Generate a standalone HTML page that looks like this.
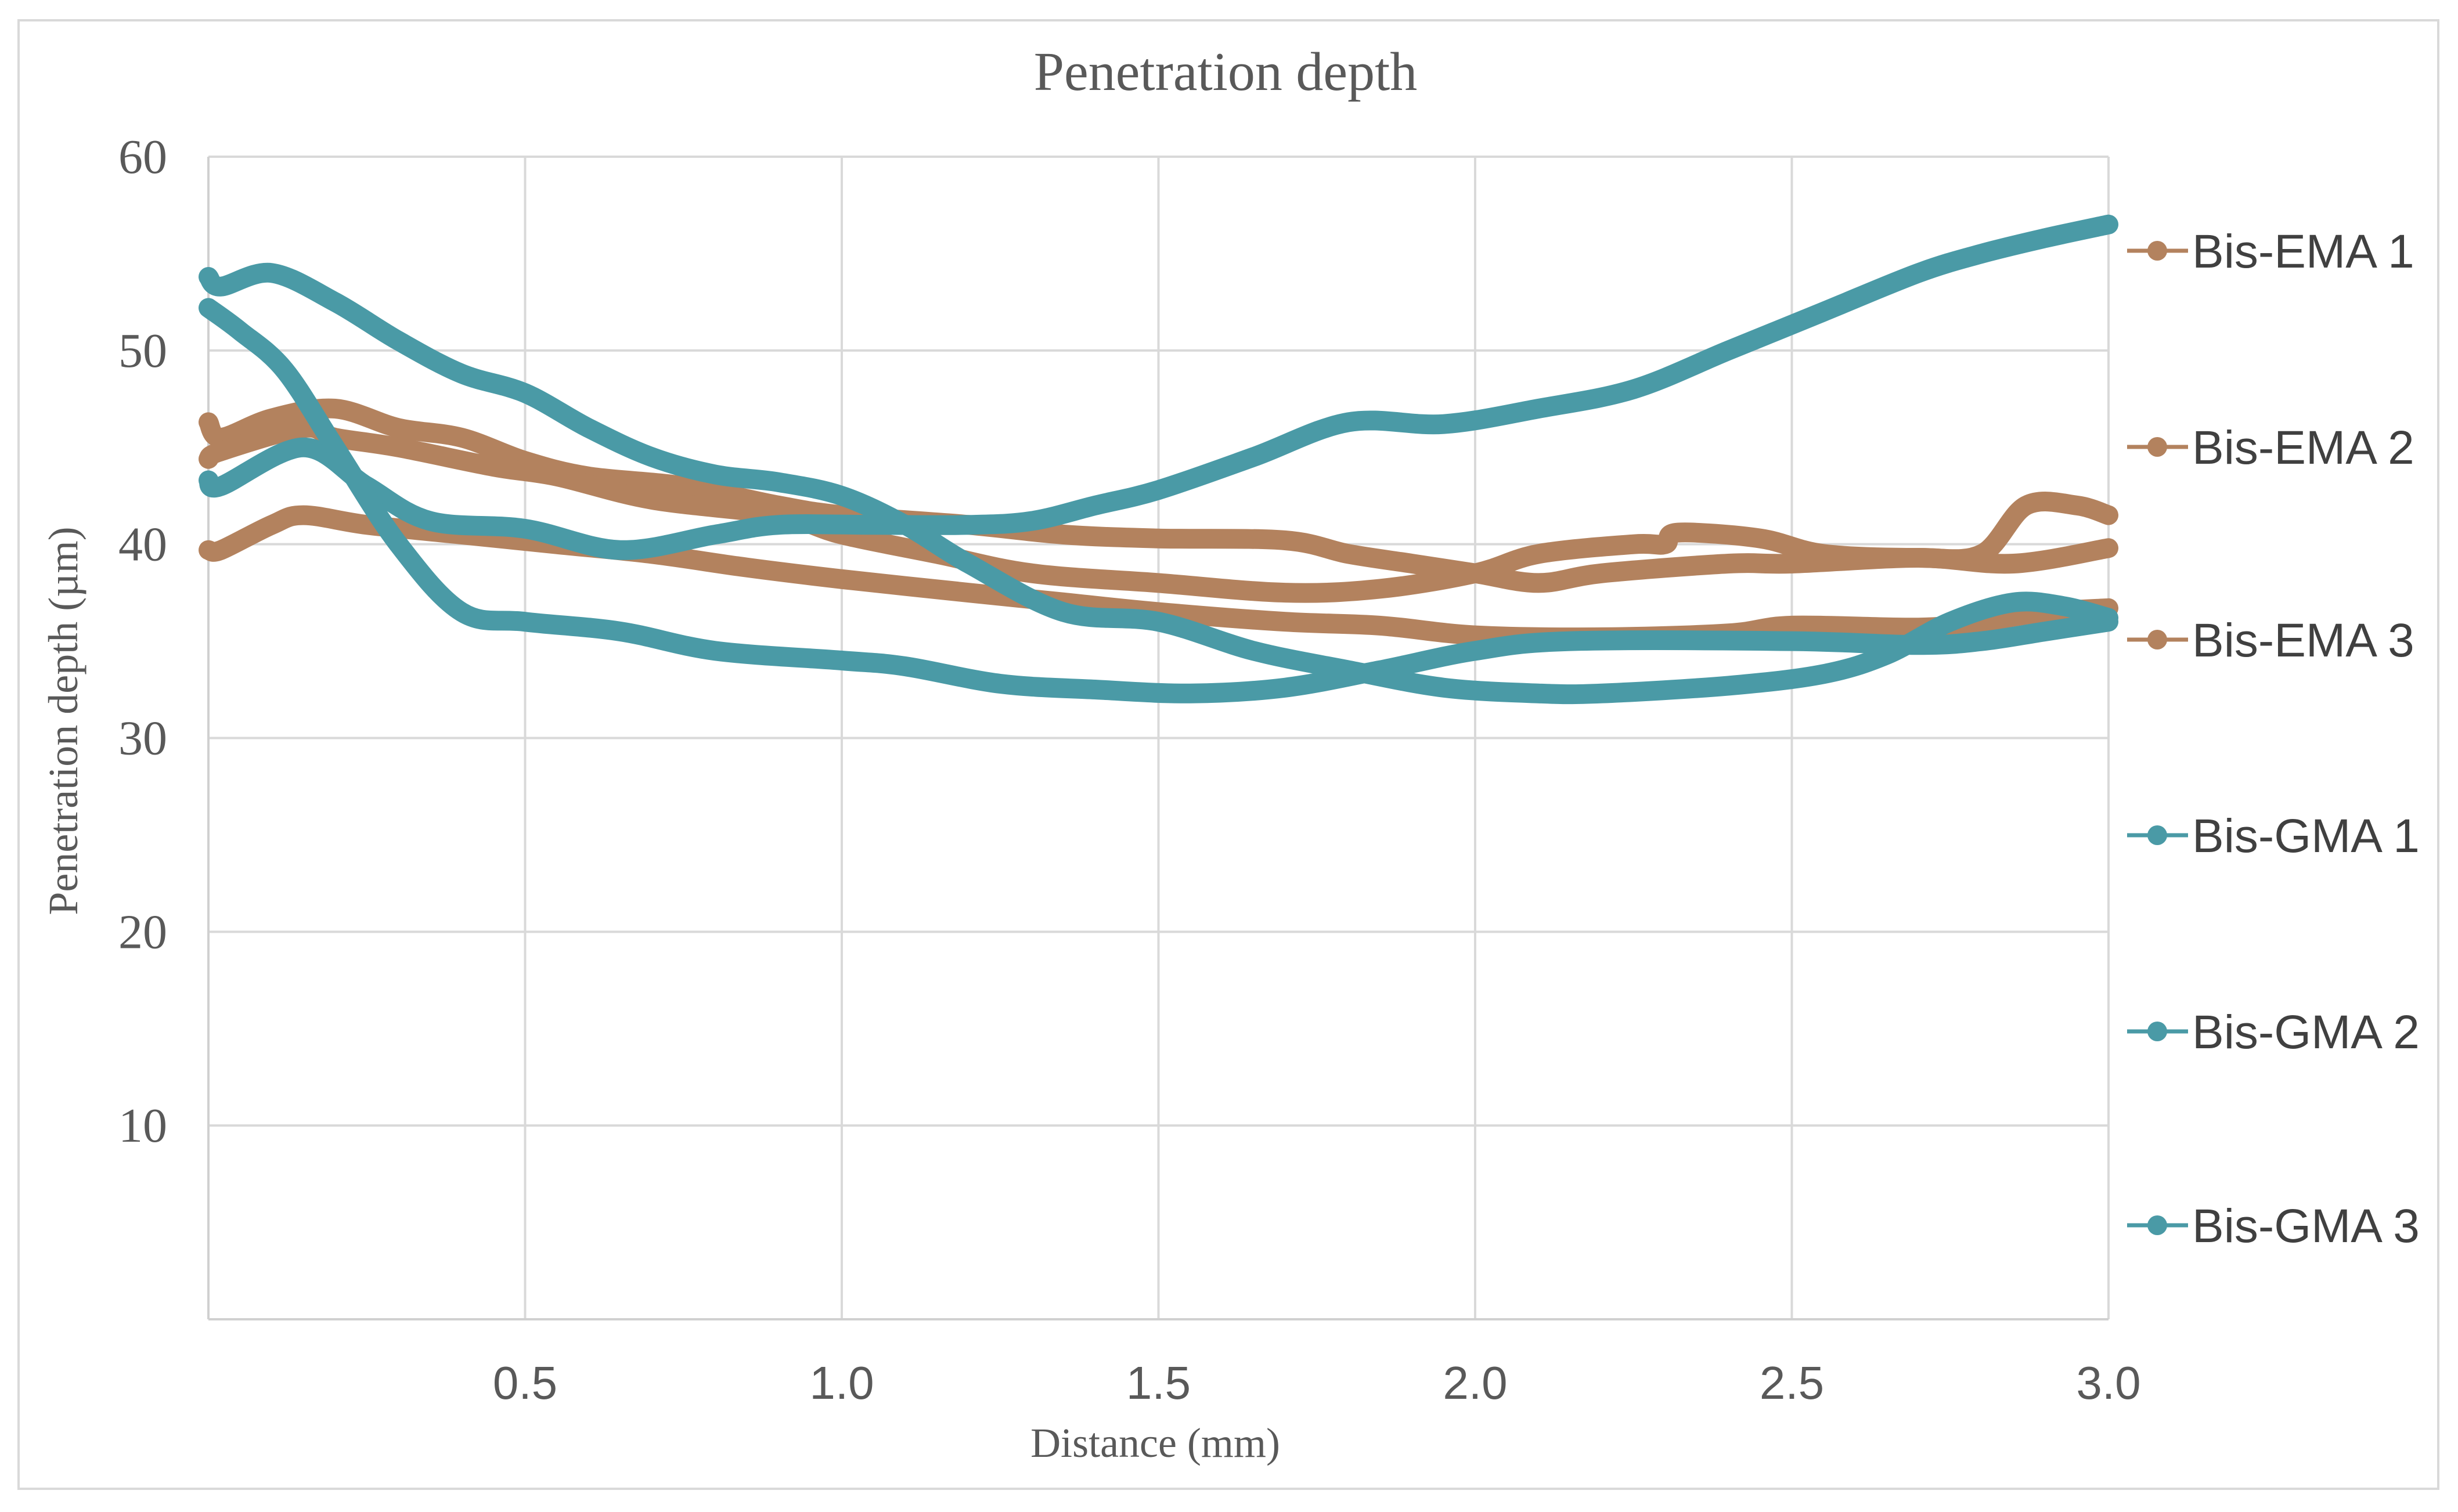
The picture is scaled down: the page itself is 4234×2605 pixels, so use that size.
<!DOCTYPE html>
<html><head><meta charset="utf-8"><style>
html,body{margin:0;padding:0;background:#fff;}
svg{display:block;}
</style></head><body>
<svg id="chart" width="4234" height="2605" viewBox="0 0 4234 2605" xmlns="http://www.w3.org/2000/svg">
<rect x="0" y="0" width="4234" height="2605" fill="#fff"/>
<rect x="32" y="35" width="4168" height="2530" fill="#fff" stroke="#d9d9d9" stroke-width="4"/>
<text x="2111" y="155" text-anchor="middle" font-family="Liberation Serif, serif" font-size="94" fill="#595959">Penetration depth</text>
<g id="grid"></g>
<g id="yticks"></g>
<g id="xticks"></g>
<g id="series"></g>
<g id="legend"></g>
<text x="1990" y="2510" text-anchor="middle" font-family="Liberation Serif, serif" font-size="72" fill="#595959">Distance (mm)</text>
<text x="0" y="0" transform="translate(133,1242) rotate(-90)" text-anchor="middle" font-family="Liberation Serif, serif" font-size="72" fill="#595959">Penetration depth  (µm)</text>
</svg>
<script>
const yTicks = [10, 20, 30, 40, 50, 60];
const xTicks = [0.5, 1.0, 1.5, 2.0, 2.5, 3.0];
const xTickLabels = ["0.5", "1.0", "1.5", "2.0", "2.5", "3.0"];
const seriesNames = ["Bis-EMA 1", "Bis-EMA 2", "Bis-EMA 3", "Bis-GMA 1", "Bis-GMA 2", "Bis-GMA 3"];
const ema1X = [0,0.02,0.1,0.2,0.3,0.4,0.5,0.6,0.75,0.9,1.0,1.2,1.35,1.5,1.7,1.8,1.9,2.0,2.1,2.2,2.4,2.5,2.7,2.85,3.0];
const ema1Y = [46.3,45.5,46.5,47,46,45.5,44.3,43.5,43,42,41.5,41,40.5,40.3,40.2,39.5,39,38.5,38,38.5,39,39,39.3,39,39.8];
const ema2X = [0,0.02,0.15,0.2,0.3,0.45,0.55,0.7,0.9,1.0,1.15,1.3,1.5,1.7,1.85,2.0,2.1,2.25,2.3,2.32,2.45,2.55,2.7,2.8,2.87,2.95,3.0];
const ema2Y = [44.4,44.8,46,45.5,45,44,43.5,42.3,41.5,40.5,39.5,38.5,38,37.5,37.7,38.5,39.5,40,40,40.6,40.3,39.5,39.3,39.5,42,42,41.5];
const ema3X = [0,0.02,0.1,0.15,0.25,0.4,0.55,0.7,0.85,1.0,1.2,1.35,1.5,1.7,1.85,2.0,2.2,2.4,2.5,2.7,2.8,2.9,3.0];
const ema3Y = [39.7,39.7,41,41.5,41,40.5,40,39.5,38.8,38.2,37.5,37,36.5,36,35.8,35.3,35.2,35.4,35.8,35.7,36,36.5,36.7];
const gma1X = [0,0.02,0.15,0.25,0.35,0.5,0.65,0.8,0.9,1.05,1.2,1.3,1.4,1.5,1.65,1.8,1.95,2.1,2.25,2.4,2.55,2.7,2.8,2.9,3.0];
const gma1Y = [43.3,43,45,43,41.2,40.8,39.7,40.5,41,41,41,41.2,42,42.8,44.5,46.3,46.2,47,48,50,52,54,55,55.8,56.5];
const gma2X = [0,0.02,0.1,0.2,0.3,0.4,0.5,0.6,0.7,0.8,0.9,1.0,1.1,1.2,1.35,1.5,1.65,1.8,1.95,2.1,2.2,2.4,2.55,2.65,2.75,2.85,2.93,3.0];
const gma2Y = [53.8,53.3,54,52.5,50.5,48.8,47.8,46,44.5,43.6,43.2,42.5,41,39,36.5,36,34.5,33.5,32.6,32.3,32.3,32.7,33.3,34.3,36,37,36.8,36.2];
const gma3X = [0,0.05,0.12,0.2,0.3,0.4,0.5,0.65,0.8,1.0,1.1,1.25,1.4,1.55,1.7,1.85,2.0,2.15,2.5,2.7,2.8,2.9,3.0];
const gma3Y = [52.2,51,49,45,40,36.5,36,35.5,34.5,34,33.7,32.8,32.5,32.3,32.6,33.5,34.5,35,35,34.8,35,35.5,36];

const L = 359, R = 3632, T = 270, B = 2273;
const xMax = 3.0, yMax = 60;
function xs(v) { return L + (v / xMax) * (R - L); }
function ys(v) { return B - (v / yMax) * (B - T); }
const NS = "http://www.w3.org/2000/svg";
function mk(tag, attrs, parent) {
  const el = document.createElementNS(NS, tag);
  for (const k in attrs) el.setAttribute(k, attrs[k]);
  parent.appendChild(el);
  return el;
}
function smoothPath(px, py) {
  let d = 'M' + px[0].toFixed(1) + ',' + py[0].toFixed(1);
  for (let i = 0; i < px.length - 1; i++) {
    const i0 = Math.max(0, i - 1), i3 = Math.min(px.length - 1, i + 2);
    const c1x = px[i] + (px[i + 1] - px[i0]) / 6, c1y = py[i] + (py[i + 1] - py[i0]) / 6;
    const c2x = px[i + 1] - (px[i3] - px[i]) / 6, c2y = py[i + 1] - (py[i3] - py[i]) / 6;
    d += ' C' + c1x.toFixed(1) + ',' + c1y.toFixed(1) + ' ' + c2x.toFixed(1) + ',' + c2y.toFixed(1) + ' ' + px[i + 1].toFixed(1) + ',' + py[i + 1].toFixed(1);
  }
  return d;
}
const grid = document.getElementById('grid');
yTicks.forEach(function(t) {
  const g = mk('line', {x1: L, x2: R, y1: ys(t), y2: ys(t), stroke: '#d9d9d9', 'stroke-width': 4}, grid);
  
  
});
xTicks.forEach(function(t) {
  const g = mk('line', {x1: xs(t), x2: xs(t), y1: T, y2: B, stroke: '#d9d9d9', 'stroke-width': 4}, grid);
  
  
});
const ax1 = mk('line', {x1: L, x2: L, y1: T, y2: B, stroke: '#d0d0d0', 'stroke-width': 4}, grid);


const ax2 = mk('line', {x1: L, x2: R, y1: B, y2: B, stroke: '#d0d0d0', 'stroke-width': 4}, grid);



const yt = document.getElementById('yticks');
yTicks.forEach(function(t) {
  const tx = mk('text', {x: 288, y: ys(t) + 28, 'text-anchor': 'end', 'font-family': 'Liberation Serif, serif', 'font-size': 84, fill: '#595959'}, yt);
  tx.textContent = String(t);
  
  
});
const xt = document.getElementById('xticks');
xTicks.forEach(function(t, i) {
  const tx = mk('text', {x: xs(t), y: 2410, 'text-anchor': 'middle', 'font-family': 'Liberation Sans, sans-serif', 'font-size': 80, fill: '#595959'}, xt);
  tx.textContent = xTickLabels[i];
  
  
});

const colors = ['#b3825e', '#b3825e', '#b3825e', '#4a9aa6', '#4a9aa6', '#4a9aa6'];
const allX = [ema1X, ema2X, ema3X, gma1X, gma2X, gma3X];
const allY = [ema1Y, ema2Y, ema3Y, gma1Y, gma2Y, gma3Y];
const sg = document.getElementById('series');
[0, 1, 2, 3, 4, 5].forEach(function(s) {
  const px = allX[s].map(xs), py = allY[s].map(ys);
  const pl = mk('path', {d: smoothPath(px, py), fill: 'none', stroke: colors[s], 'stroke-width': 34, 'stroke-linejoin': 'round', 'stroke-linecap': 'round'}, sg);
  
  
});

const lg = document.getElementById('legend');
const legY = [432, 770, 1102, 1439, 1777, 2111];
seriesNames.forEach(function(n, i) {
  const ln = mk('line', {x1: 3664, x2: 3769, y1: legY[i], y2: legY[i], stroke: colors[i], 'stroke-width': 7}, lg);
  
  
  const c = mk('circle', {cx: 3716, cy: legY[i], r: 17, fill: colors[i]}, lg);
  
  
  const tx = mk('text', {x: 3776, y: legY[i] + 29, 'font-family': 'Liberation Sans, sans-serif', 'font-size': 82, fill: '#404040'}, lg);
  tx.textContent = n;
  
  
});
</script>
</body></html>
